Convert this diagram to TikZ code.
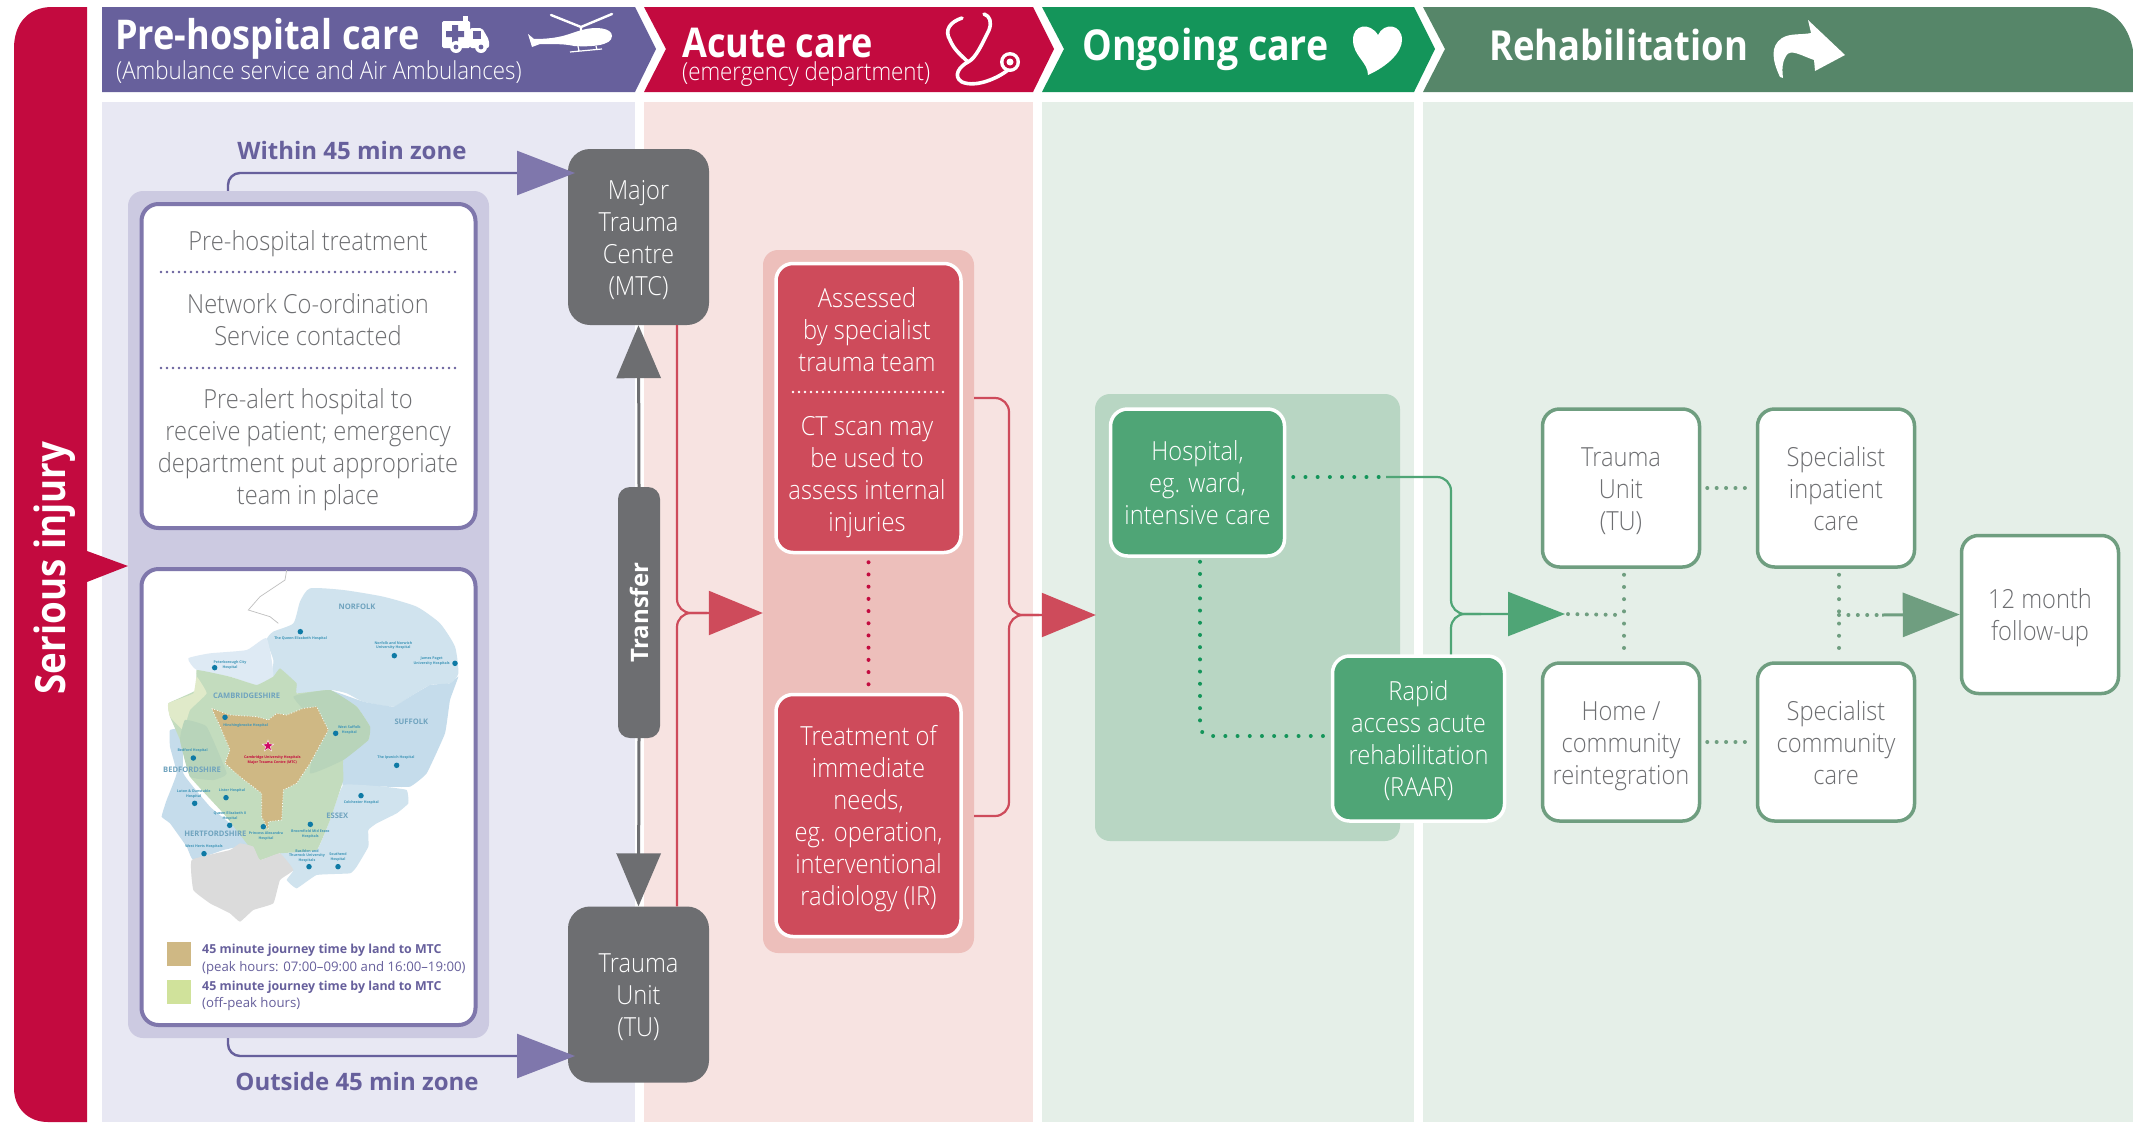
\documentclass[tikz,border=0pt]{standalone}
\usepackage{fontspec}
\usetikzlibrary{arrows.meta,shapes.geometric,calc}
\setmainfont[FakeStretch=0.9]{Open Sans Light}
\newfontfamily\lab{Open Sans}
\newfontfamily\labn[FakeStretch=0.88]{Open Sans}
\newcommand{\tx}[1]{\raisebox{-4pt}[\height][\depth]{\begin{tabular}{@{}c@{}}#1\end{tabular}}}
\definecolor{crim}{HTML}{C30A3F}
\definecolor{hpur}{HTML}{67609C}
\definecolor{hgrn}{HTML}{14955A}
\definecolor{hreh}{HTML}{568669}
\definecolor{ppur}{HTML}{E8E8F3}
\definecolor{pred}{HTML}{F7E3E1}
\definecolor{pgrn}{HTML}{E5EFE8}
\definecolor{gpur}{HTML}{CCCAE1}
\definecolor{gred}{HTML}{EDBFBB}
\definecolor{ggrn}{HTML}{B8D6C3}
\definecolor{bpur}{HTML}{7F77AC}
\definecolor{bred}{HTML}{CE4B5B}
\definecolor{bgrn}{HTML}{4FA576}
\definecolor{bgry}{HTML}{6D6E71}
\definecolor{breh}{HTML}{6F9E80}
\definecolor{mtan}{HTML}{CFB884}
\definecolor{mdot}{HTML}{0E7AA5}
\definecolor{mlab}{HTML}{6FA3BE}
\definecolor{mnor}{HTML}{D0E3EE}
\definecolor{mpet}{HTML}{DEEAF4}
\definecolor{msuf}{HTML}{C5DCEB}
\definecolor{mgr1}{HTML}{C3DCBE}
\definecolor{mgr2}{HTML}{B8D4BA}
\definecolor{mgr3}{HTML}{E0EAC9}
\definecolor{lgrn}{HTML}{D0E29B}
\tikzset{
 x=1pt,y=-1pt,
 body/.style={font=\fontsize{26.3}{32}\selectfont,align=center,inner sep=0pt},
 dark/.style={body,rounded corners=22pt,fill=bgry,text=white,minimum width=141pt,minimum height=176pt},
 redbox/.style={body,rounded corners=17pt,draw=white,line width=3.5pt,fill=bred,text=white,minimum width=185pt},
 grnbox/.style={body,rounded corners=17pt,draw=white,line width=3.5pt,fill=bgrn,text=white},
 rehbox/.style={body,rounded corners=17pt,draw=breh,line width=3.5pt,fill=white,text=bgry,minimum width=157pt,minimum height=158pt},
 purbox/.style={body,rounded corners=17pt,draw=bpur,line width=4pt,fill=white,text=bgry,minimum width=334pt},
 group/.style={rounded corners=15pt,inner sep=0pt},
 txt/.style={body,text=bgry},
 dotline/.style={line cap=round,line width=4pt,dash pattern=on 0pt off 12.2pt},
 dotrow/.style={line cap=round,line width=4pt,dash pattern=on 0pt off 9.4pt},
 fine/.style={line cap=round,line width=2.8pt,dash pattern=on 0pt off 6pt},
 curve/.style={rounded corners=14pt,line width=2.2pt},
 hosp/.style={font=\lab\bfseries\fontsize{3.6}{4.6}\selectfont,text=mdot!80!white,align=center,inner sep=0pt},
 county/.style={font=\lab\bfseries\fontsize{7.6}{8}\selectfont,text=mlab,inner sep=0pt},
 mapdot/.style={circle,fill=mdot,minimum size=5.5pt,inner sep=0pt},
 legend/.style={anchor=west,inner sep=0pt,text=hpur,font=\lab\fontsize{13.2}{15}\selectfont},
 legendb/.style={anchor=west,inner sep=0pt,text=hpur,font=\lab\bfseries\fontsize{12.4}{15}\selectfont},
 head/.style={anchor=west,inner sep=0pt,text=white,font=\labn\bfseries\fontsize{41}{44}\selectfont},
 subh/.style={anchor=west,inner sep=0pt,text=white,font=\fontsize{24.8}{28}\selectfont},
}
\begin{document}
\begin{tikzpicture}
\useasboundingbox (0,0) rectangle (2133,1122);
\fill[white] (0,0) rectangle (2133,1122);
% panels
\fill[ppur] (102,102) rectangle (635,1122);
\fill[pred] (644,102) rectangle (1033,1122);
\fill[pgrn] (1042,102) rectangle (1414,1122);
\fill[pgrn] (1423,102) rectangle (2133,1122);
% side bar
\fill[crim] (87,7) -- (52,7) .. controls (28,7) and (14,24) .. (14,48) -- (14,1088) .. controls (14,1108) and (28,1122) .. (48,1122) -- (87,1122) -- (87,582) -- (128,566) -- (87,551) -- cycle;
\node[rotate=90,text=white,inner sep=0pt,font=\labn\bfseries\fontsize{41.7}{44}\selectfont] (si) at (55,568) {Serious injury};
% header chevrons
\fill[hpur] (102,7) -- (635,7) -- (656,49) -- (635,92) -- (102,92) -- cycle;
\fill[crim] (644,7) -- (1033,7) -- (1054,49) -- (1033,92) -- (644,92) -- (666,49) -- cycle;
\fill[hgrn] (1042,7) -- (1414,7) -- (1435,49) -- (1414,92) -- (1042,92) -- (1064,49) -- cycle;
\fill[hreh] (1423,7) -- (2085,7) .. controls (2112,7) and (2128,24) .. (2133,50) -- (2133,92) -- (1423,92) -- (1445,49) -- cycle;
\node[head] (h1) at (115,39) {Pre-hospital care};
\node[subh] (h1s) at (116,72) {(Ambulance service and Air Ambulances)};
\node[head] (h2) at (682,43) {Acute care};
\node[subh] (h2s) at (682,74) {(emergency department)};
\node[head,font=\labn\bfseries\fontsize{42.6}{44}\selectfont] (h3) at (1082,49) {Ongoing care};
\node[head,font=\labn\bfseries\fontsize{41.4}{44}\selectfont] (h4) at (1489,45) {Rehabilitation};
% ambulance
\fill[white,rounded corners=1.5pt] (442,21) -- (470,21) -- (470,48) -- (442,48) -- cycle;
\fill[white] (463,16) rectangle (468,22);
\fill[white,rounded corners=2pt] (470,28) -- (482,28) -- (489,40) -- (489,48) -- (470,48) -- cycle;
\fill[hpur] (473,31) rectangle (481,39);
\fill[hpur] (452,25) rectangle (458,43) (446,31) rectangle (464,37);
\fill[white] (456,47) circle (6pt) (481,47) circle (6pt);
\fill[hpur] (456,47) circle (2.4pt) (481,47) circle (2.4pt);
% helicopter
\draw[white,line width=2.4pt,line cap=round] (551,15) -- (581,27) -- (612,14) (581,27) -- (581,33);
\fill[white] (612,36) .. controls (612,28) and (596,26) .. (582,30) .. controls (570,33) and (562,39) .. (534,39) -- (528,34) -- (532,47) -- (540,44) .. controls (555,44) and (566,44) .. (574,46) .. controls (590,47) and (612,46) .. (612,36) -- cycle;
\draw[white,line width=1.2pt] (578,46) -- (579,51) (596,46) -- (597,50) (570,52) -- (602,49);
% stethoscope
\draw[white,line width=3.6pt,line cap=round,line join=round] (962,18) .. controls (950,22) and (944,30) .. (950,40) .. controls (954,50) and (962,56) .. (968,62) .. controls (976,58) and (982,44) .. (989,30) .. controls (992,22) and (990,16) .. (984,14);
\draw[white,line width=3.6pt,line cap=round] (968,62) .. controls (960,66) and (952,76) .. (962,82) .. controls (976,88) and (998,78) .. (1008,70);
\fill[white] (1010,62) circle (10pt);
\fill[crim] (1010,62) circle (6.5pt);
\fill[white] (1010,62) circle (3.5pt);
% heart
\fill[white] (1368,75) .. controls (1368,62) and (1353,56) .. (1353,40) .. controls (1353,24) and (1370,22) .. (1378,35) .. controls (1384,22) and (1402,24) .. (1402,40) .. controls (1402,52) and (1388,66) .. (1368,75) -- cycle;
% rehab arrow
\fill[white] (1808,20) -- (1845,55) -- (1815,71) -- (1814,60) .. controls (1802,56) and (1790,48) .. (1786,56) .. controls (1782,62) and (1782,70) .. (1783,78) -- (1780,77) .. controls (1772,60) and (1770,46) .. (1782,38) .. controls (1790,33) and (1802,35) .. (1811,33) -- cycle;
% groups and boxes
\node[group,fill=gpur,minimum width=361pt,minimum height=847pt] (lgrp) at (308.5,614.5) {};
\node[group,fill=gred,minimum width=211pt,minimum height=703pt] (rgrp) at (868.5,601.5) {};
\node[group,fill=ggrn,minimum width=305pt,minimum height=447pt] (ggrp) at (1247.5,617.5) {};
\node[purbox,minimum height=324pt] (treat) at (308.5,366) {};
\node[purbox,minimum height=456pt] (mapbox) at (308.5,797) {};
\node[txt] (t1) at (308,240) {\tx{Pre-hospital treatment}};
\node[txt] (t2) at (308,319) {\tx{Network Co-ordination\\Service contacted}};
\node[txt] (t3) at (308,446) {\tx{Pre-alert hospital to\\receive patient; emergency\\department put appropriate\\team in place}};
\coordinate (d1a) at (161,272); \coordinate (d1b) at (456,272);
\coordinate (d2a) at (161,368); \coordinate (d2b) at (456,368);
\draw[fine,draw=hpur] (d1a) -- (d1b);
\draw[fine,draw=hpur] (d2a) -- (d2b);
% map
\begin{scope}[shift={(130,560)},x=0.33333pt,y=-0.33333pt]
\draw[black!25,line width=0.7pt] (470,30) -- (465,60) -- (390,110) -- (355,150) -- (420,170) -- (445,190);
\fill[mnor] plot[smooth cycle,tension=0.35] coordinates {(410,240) (430,215) (490,190) (510,125) (540,85) (640,90) (760,110) (860,140) (930,190) (975,260) (985,340) (960,370) (900,375) (840,410) (790,440) (700,425) (650,400) (600,390) (500,400) (430,350) (430,300)};
\fill[mpet] plot[smooth cycle,tension=0.3] coordinates {(175,295) (240,280) (350,270) (410,235) (430,350) (380,375) (300,350) (200,330)};
\fill[msuf] plot[smooth cycle,tension=0.2] coordinates {(600,390) (700,425) (790,440) (840,410) (900,375) (960,370) (985,350) (960,420) (945,520) (890,640) (840,680) (760,680) (640,680) (640,600) (715,540) (720,500) (680,440)};
\fill[mnor] plot[smooth cycle,tension=0.2] coordinates {(640,675) (760,680) (830,690) (835,730) (800,760) (740,790) (715,810) (715,860) (680,920) (660,940) (560,945) (500,985) (470,960) (490,930) (450,880) (560,870) (600,780)};
\fill[msuf] plot[smooth cycle,tension=0.2] coordinates {(120,510) (160,510) (160,640) (240,740) (300,790) (370,850) (350,855) (280,870) (190,900) (170,860) (120,790) (95,770) (110,720) (140,640) (120,560)};
\fill[mgr1] plot[smooth cycle,tension=0.15] coordinates {(200,330) (300,350) (380,375) (430,350) (450,325) (500,370) (500,400) (600,390) (680,440) (720,500) (715,540) (640,600) (640,660) (600,780) (560,870) (450,880) (390,900) (350,850) (280,760) (180,650) (150,540) (120,470) (115,430) (200,390)};
\fill[mgr3] plot[smooth cycle,tension=0.2] coordinates {(200,350) (230,400) (180,450) (160,510) (120,470) (115,430) (190,400)};
\fill[mgr2] plot[smooth cycle,tension=0.2] coordinates {(490,410) (600,390) (680,440) (720,500) (715,540) (640,600) (540,640) (560,500)};
\fill[mgr2] plot[smooth cycle,tension=0.2] coordinates {(165,480) (230,500) (290,640) (250,660) (180,650) (150,540)};
\fill[mtan] (245,445) -- (300,465) -- (380,470) -- (415,480) -- (440,460) -- (470,465) -- (520,445) -- (560,440) -- (595,510) -- (540,610) -- (500,670) -- (460,690) -- (455,780) -- (415,785) -- (415,810) -- (395,770) -- (395,700) -- (330,650) -- (285,610) -- (300,570) -- (275,510) -- cycle;
\draw[white,line width=0.8pt,dotted] (245,445) -- (300,465) -- (380,470) -- (415,480) -- (440,460) -- (470,465) -- (520,445) -- (560,440) -- (595,510) -- (540,610) -- (500,670) -- (460,690) -- (455,780) -- (415,785) -- (415,810) -- (395,770) -- (395,700) -- (330,650) -- (285,610) -- (300,570) -- (275,510) -- cycle;
\fill[black!14] plot[smooth cycle,tension=0.2] coordinates {(185,900) (300,870) (330,850) (370,860) (390,900) (450,880) (490,930) (450,960) (430,1030) (370,1050) (330,1085) (300,1060) (260,1040) (240,1030) (190,990)};
\node[county] (cN) at (681,141) {NORFOLK};
\node[county] (cS) at (844,484) {SUFFOLK};
\node[county] (cC) at (350,408) {CAMBRIDGESHIRE};
\node[county] (cB) at (186,628) {BEDFORDSHIRE};
\node[county] (cH) at (256,820) {HERTFORDSHIRE};
\node[county] (cE) at (622,768) {ESSEX};
\foreach \n/\a/\b in {a/511/215,b/793/287,c/975/310,d/254/323,e/285/472,f/617/520,g/190/594,h/800/616,i/194/730,j/288/713,k/693/707,l/299/796,m/400/800,n/541/793,o/222/881,p/537/920,q/624/920}
  \node[mapdot] (m\n) at (\a,\b) {};
\node[hosp] (la) at (512,236) {The Queen Elizabeth Hospital};
\node[hosp] (lb) at (790,257) {Norfolk and Norwich\\University Hospital};
\node[hosp] (lc) at (905,304) {James Paget\\University Hospitals};
\node[hosp] (ld) at (300,315) {Peterborough City\\Hospital};
\node[hosp] (le) at (347,497) {Hinchingbrooke Hospital};
\node[hosp] (lf) at (658,510) {West Suffolk\\Hospital};
\node[hosp] (lg) at (188,572) {Bedford Hospital};
\node[hosp] (lh) at (798,593) {The Ipswich Hospital};
\node[hosp] (li) at (191,702) {Luton \& Dunstable\\Hospital};
\node[hosp] (lj) at (306,692) {Lister Hospital};
\node[hosp] (lk) at (694,728) {Colchester Hospital};
\node[hosp] (ll) at (300,768) {Queen Elizabeth II\\Hospital};
\node[hosp] (lm) at (408,828) {Princess Alexandra\\Hospital};
\node[hosp] (ln) at (541,822) {Broomfield Mid Essex\\Hospitals};
\node[hosp] (lo) at (222,860) {West Herts Hospitals};
\node[hosp] (lp) at (531,888) {Basildon and\\Thurrock University\\Hospitals};
\node[hosp] (lq) at (624,892) {Southend\\Hospital};
\node[hosp,text=crim] (lr) at (427,600) {Cambridge University Hospitals\\Major Trauma Centre (MTC)};
\node[star,star points=5,star point ratio=2.4,fill=crim!80!magenta,draw=white,line width=0.4pt,minimum size=12pt,inner sep=0pt] (mstar) at (414,558) {};
\end{scope}
% legend
\fill[mtan] (167,942) rectangle (191,966);
\fill[lgrn] (167,980) rectangle (191,1004);
\node[legendb] (l1) at (202,950) {45 minute journey time by land to MTC};
\node[legend] (l2) at (202,968) {(peak hours: 07:00–09:00 and 16:00–19:00)};
\node[legendb] (l3) at (202,987) {45 minute journey time by land to MTC};
\node[legend] (l4) at (202,1004) {(off-peak hours)};
% grey nodes
\node[dark] (mtc) at (638.5,237) {\tx{Major\\Trauma\\Centre\\(MTC)}};
\node[dark] (tu) at (638.5,994.5) {\tx{Trauma\\Unit\\(TU)}};
\node[dark,rounded corners=12pt,minimum width=42pt,minimum height=251pt,font=\lab\bfseries\fontsize{24}{28}\selectfont] (xfer) at (639,612.5) {\rotatebox{90}{Transfer}};
\draw[bgry,line width=3pt,-{Triangle[length=53pt,width=44pt,fill=bgry]}] (xfer.north) -- (mtc.south);
\draw[bgry,line width=3pt,-{Triangle[length=53pt,width=44pt,fill=bgry]}] (xfer.south) -- (tu.north);
% red nodes
\node[redbox,minimum height=289pt] (ass) at (868.5,408) {};
\node[body,text=white] (ass1) at (867,329) {\tx{Assessed\\by specialist\\trauma team}};
\node[body,text=white] (ass2) at (867,473) {\tx{CT scan may\\be used to\\assess internal\\injuries}};
\coordinate (wd1) at (793,392); \coordinate (wd2) at (943,392);
\draw[fine,draw=white] (wd1) -- (wd2);
\node[redbox,minimum height=242pt] (treatm) at (868.5,815.5) {\tx{Treatment of\\immediate\\needs,\\eg. operation,\\interventional\\radiology (IR)}};
\draw[dotline,draw=crim,shorten <=8pt,shorten >=3pt] (ass.south) -- (treatm.north);
% red connectors
\coordinate (rj1) at (677,613);
\coordinate (rj2) at (1009,615);
\draw[curve,draw=bred,-{Triangle[length=54pt,width=44pt,fill=bred,color=bred]}] (mtc.south -| rj1) -- (rj1) -- (rgrp.west |- rj1);
\draw[curve,draw=bred] (tu.north -| rj1) -- (rj1) -- ($(rj1)+(30,0)$);
\coordinate (ra) at (974,398); \coordinate (rb) at (974,816);
\draw[curve,draw=bred,-{Triangle[length=54pt,width=44pt,fill=bred,color=bred]}] (ra) -- (ra -| rj2) -- (rj2) -- ($(ggrp.west |- rj2)+(1,0)$);
\draw[curve,draw=bred] (rb) -- (rb -| rj2) -- (rj2) -- ($(rj2)+(30,0)$);
% green nodes
\node[grnbox,minimum width=174pt,minimum height=147pt] (hos) at (1197.5,482.5) {\tx{Hospital,\\eg. ward,\\intensive care}};
\node[grnbox,minimum width=172pt,minimum height=165pt] (raar) at (1418.5,738.5) {\tx{Rapid\\access acute\\rehabilitation\\(RAAR)}};
\node[rehbox] (tu2) at (1621,488) {\tx{Trauma\\Unit\\(TU)}};
\node[rehbox] (spi) at (1836,488) {\tx{Specialist\\inpatient\\care}};
\node[rehbox] (hom) at (1621,742) {\tx{Home /\\community\\reintegration}};
\node[rehbox] (spc) at (1836,742) {\tx{Specialist\\community\\care}};
\node[rehbox] (fu) at (2040,614.5) {\tx{12 month\\follow-up}};
% green connectors
\coordinate (gj) at (1451,614);
\coordinate (hy) at (1386,477);
\coordinate (gtip) at (1565,614);
\draw[dotline,draw=hgrn,shorten <=7pt] (hos.east |- hy) -- (hy);
\draw[curve,draw=bgrn,-{Triangle[length=57pt,width=44pt,fill=bgrn,color=bgrn]}] (hy) -- (hy -| gj) -- (gj) -- (gtip);
\draw[curve,draw=bgrn] (raar.north -| gj) -- (gj) -- ($(gj)+(30,0)$);
\coordinate (hc) at (1200,736);
\draw[dotline,draw=hgrn,rounded corners=10pt,shorten <=4pt,shorten >=4pt] (hos.south -| hc) -- (hc) -- (raar.west |- hc);
\coordinate (v1) at (1624,615);
\coordinate (v2) at (1839,615);
\coordinate (dd) at (1882,615);
\draw[dotrow,draw=breh,shorten <=3pt] (gtip) -- (v1);
\draw[dotline,draw=breh,shorten <=6pt,shorten >=6pt] (tu2.south -| v1) -- (hom.north -| v1);
\draw[dotline,draw=breh,shorten <=6pt,shorten >=6pt] (spi.south -| v2) -- (spc.north -| v2);
\draw[dotrow,draw=breh] (v2) -- (dd);
\draw[line width=3pt,draw=breh,-{Triangle[length=57pt,width=44pt,fill=breh,color=breh]}] (dd) -- (fu.west);
\draw[dotrow,draw=breh,shorten <=6pt,shorten >=6pt] (tu2.east) -- (spi.west);
\draw[dotrow,draw=breh,shorten <=6pt,shorten >=6pt] (hom.east) -- (spc.west);
% zone arrows
\coordinate (wz) at (228,173); \coordinate (wt) at (575,173);
\coordinate (oz) at (228,1056); \coordinate (ot) at (575,1056);
\draw[rounded corners=12pt,line width=2.4pt,draw=hpur,-{Triangle[length=58pt,width=44pt,fill=bpur,color=bpur]}] (lgrp.north -| wz) -- (wz) -- (wt);
\draw[rounded corners=12pt,line width=2.4pt,draw=hpur,-{Triangle[length=58pt,width=44pt,fill=bpur,color=bpur]}] (lgrp.south -| oz) -- (oz) -- (ot);
\node[inner sep=0pt,text=hpur,font=\lab\bfseries\fontsize{24}{28}\selectfont] (wl) at (352,150) {Within 45 min zone};
\node[inner sep=0pt,text=hpur,font=\lab\bfseries\fontsize{24}{28}\selectfont] (ol) at (357,1081) {Outside 45 min zone};
\end{tikzpicture}
\end{document}
